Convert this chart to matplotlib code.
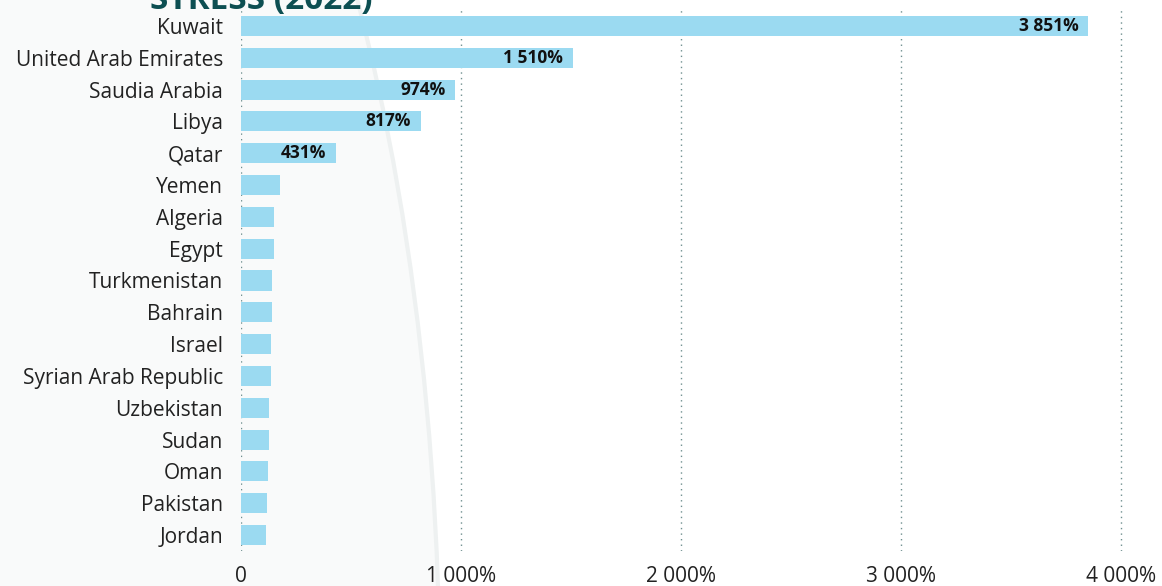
import matplotlib.pyplot as plt
from matplotlib.patches import Ellipse, Arc
from matplotlib.ticker import FuncFormatter

countries = ["Kuwait", "United Arab Emirates", "Saudia Arabia", "Libya", "Qatar",
             "Yemen", "Algeria", "Egypt", "Turkmenistan", "Bahrain", "Israel",
             "Syrian Arab Republic", "Uzbekistan", "Sudan", "Oman", "Pakistan", "Jordan"]
stress = [3851, 1510, 974, 817, 431, 177, 150, 150, 141, 141, 136, 136, 127, 127, 123, 118, 114]
labelled = 5  # top entries that carry a value label
xticks = [0, 1000, 2000, 3000, 4000]

plt.rcParams['font.family'] = ['Open Sans', 'DejaVu Sans']

W, H = 1162, 586
fig = plt.figure(figsize=(W / 100, H / 100), dpi=100)
fig.patch.set_facecolor('white')

# faint decorative globe shapes in the background
bg = fig.add_axes([0, 0, 1, 1], zorder=0)
bg.set_xlim(0, W)
bg.set_ylim(H, 0)
bg.axis('off')
bg.add_patch(Ellipse((0, 700), 880, 2400, facecolor='#f9fafa',
                     edgecolor='#eef1f1', lw=3))
bg.add_patch(Arc((1000, 1000), 640, 1650, theta1=150, theta2=200,
                 color='#f2f4f4', lw=3))
bg.add_patch(Arc((1700, 700), 1300, 1500, theta1=120, theta2=160,
                 color='#f2f4f4', lw=3))
bg.add_patch(Arc((700, 900), 1200, 1500, theta1=60, theta2=120,
                 color='#f2f4f4', lw=3))

ax = fig.add_axes([241 / W, 1 - 551 / H, (1140 - 241) / W, (551 - 10) / H], zorder=1)
ax.patch.set_alpha(0)
y = list(range(len(countries)))
ax.barh(y, stress, height=0.63, color='#9bdaf1', zorder=2)
ax.set_ylim(len(countries) - 0.5, -0.5)
ax.set_xlim(0, (1140 - 241) / 0.22)

for i in range(labelled):
    v = stress[i]
    txt = f"{v:,}%".replace(",", " ")
    ax.text(v - 45, i, txt, ha='right', va='center', fontsize=12.5,
            fontweight='bold', color='#111111', zorder=3)

ax.set_yticks(y)
ax.set_yticklabels(countries, fontsize=15, color='#222222')
ax.set_xticks(xticks)
ax.xaxis.set_major_formatter(FuncFormatter(
    lambda v, p: "0" if v == 0 else f"{int(v):,}%".replace(",", " ")))
ax.tick_params(axis='x', labelsize=15, colors='#222222', length=0, pad=11)
ax.tick_params(axis='y', length=0, pad=13)
for s in ax.spines.values():
    s.set_visible(False)
ax.grid(axis='x', linestyle=(0, (1, 3)), color='#6f8f8f', lw=1, zorder=1)
ax.set_axisbelow(True)

fig.text(150 / W, 1 - 0 / H, "STRESS (2022)", ha='left', va='center',
         fontsize=24, fontweight='bold', color='#0d4f52')

fig.savefig('out.png', dpi=100)
